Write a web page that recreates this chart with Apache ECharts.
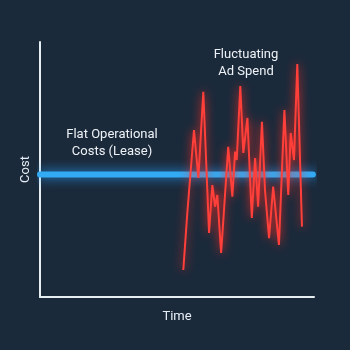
<!DOCTYPE html>
<html>
<head>
<meta charset="utf-8">
<script src="https://cdn.jsdelivr.net/npm/echarts@6/dist/echarts.min.js"></script>
<style>
html,body{margin:0;padding:0;background:#1b2a3b;}
#c{width:350px;height:350px;}
</style>
</head>
<body>
<div id="c"></div>
<script>
const flatTime = [0, 99.6];
const flatCost = [48, 48];
const adTime = [52.3,53.8,54.5,56.2,57.8,59.6,61.7,62.9,63.9,64.7,66.1,68.7,70.2,71.2,71.8,73.1,74.2,75.7,77.3,78.5,79.6,81.0,82.1,83.6,85.1,87.2,89.2,90.6,91.5,92.7,93.9,95.6];
const adCost = [10.6,33.5,32.9,65.5,46.7,80.5,25.1,43.9,35.4,40.0,17.3,58.9,39.3,57.0,53.7,82.7,56.5,70.2,31.0,54.5,35.4,68.7,42.0,23.1,43.3,20.4,73.3,40.0,64.3,53.7,91.4,27.6];
const labels = {
  flat: 'Flat Operational\nCosts (Lease)',
  ad: 'Fluctuating\nAd Spend',
  x: 'Time',
  y: 'Cost'
};

const chart = echarts.init(document.getElementById('c'));
const font = 'Roboto, "Noto Sans", sans-serif';
chart.setOption({
  backgroundColor: '#1b2a3b',
  animation: false,
  grid: {left: 40, right: 36, top: 42, bottom: 53},
  xAxis: {
    type: 'value', min: 0, max: 100,
    name: labels.x, nameLocation: 'middle', nameGap: 13,
    nameTextStyle: {color: '#e8eef5', fontSize: 13, fontFamily: font},
    axisLine: {lineStyle: {color: '#e6eef2', width: 2}},
    axisTick: {show: false}, axisLabel: {show: false}, splitLine: {show: false}
  },
  yAxis: {
    type: 'value', min: 0, max: 100,
    name: labels.y, nameLocation: 'middle', nameGap: 8,
    nameTextStyle: {color: '#e8eef5', fontSize: 13, fontFamily: font},
    axisLine: {show: true, lineStyle: {color: '#e6eef2', width: 2}},
    axisTick: {show: false}, axisLabel: {show: false}, splitLine: {show: false}
  },
  series: [
    {
      type: 'line', symbol: 'none', z: 3,
      data: flatTime.map((t, i) => [t, flatCost[i]]),
      lineStyle: {color: '#33aaf4', width: 6, cap: 'round', shadowBlur: 12, shadowColor: 'rgba(40,160,255,0.9)'}
    },
    {
      type: 'line', symbol: 'none', z: 4,
      data: adTime.map((t, i) => [t, adCost[i]]),
      lineStyle: {color: '#ff3f3a', width: 2, shadowBlur: 10, shadowColor: 'rgba(255,45,35,1)'}
    }
  ],
  graphic: [
    {type: 'text', x: 112, y: 126, style: {text: labels.flat, fill: '#eef2f6', font: '13px ' + font, align: 'center', verticalAlign: 'top', lineHeight: 17}},
    {type: 'text', x: 246, y: 46, style: {text: labels.ad, fill: '#eef2f6', font: '13px ' + font, align: 'center', verticalAlign: 'top', lineHeight: 17}}
  ]
});
</script>
</body>
</html>
